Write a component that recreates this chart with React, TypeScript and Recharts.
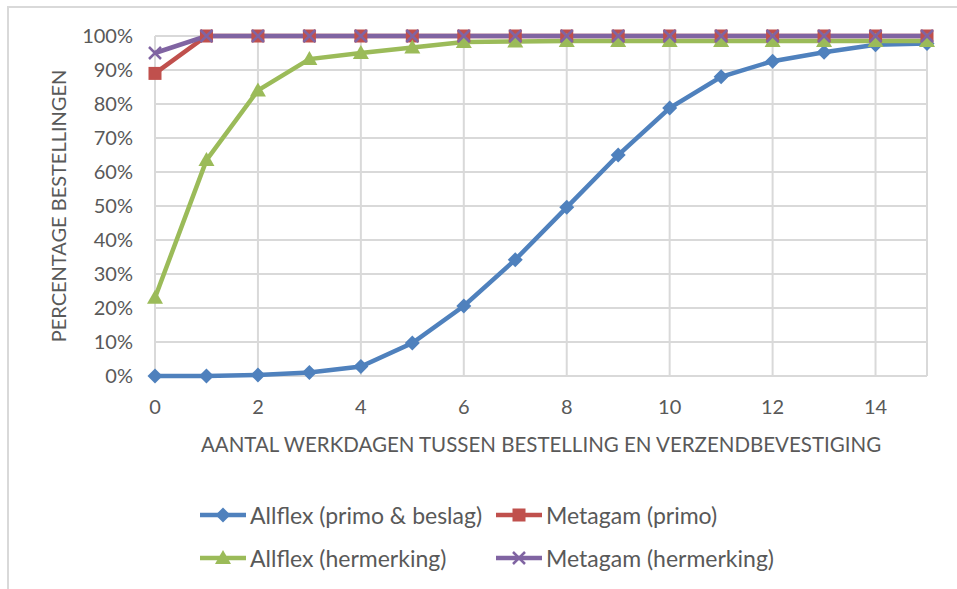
import React from 'react';
import { LineChart, Line, XAxis, YAxis, CartesianGrid, Legend, Label } from 'recharts';

const DAGEN = [0, 1, 2, 3, 4, 5, 6, 7, 8, 9, 10, 11, 12, 13, 14, 15];
const ALLFLEX_PRIMO = [0, 0, 0.3, 1, 2.8, 9.7, 20.6, 34.2, 49.6, 65, 78.8, 88, 92.6, 95.2, 97.4, 97.8];
const METAGAM_PRIMO = [89, 100, 100, 100, 100, 100, 100, 100, 100, 100, 100, 100, 100, 100, 100, 100];
const ALLFLEX_HERMERKING = [23, 63.5, 84, 93.2, 95, 96.6, 98.2, 98.4, 98.5, 98.5, 98.5, 98.5, 98.5, 98.5, 98.5, 98.5];
const METAGAM_HERMERKING = [95, 100, 100, 100, 100, 100, 100, 100, 100, 100, 100, 100, 100, 100, 100, 100];
const X_TICKS = [0, 2, 4, 6, 8, 10, 12, 14];
const Y_TICKS = [0, 10, 20, 30, 40, 50, 60, 70, 80, 90, 100];

const FONT = 'Lato, sans-serif';
const TEXT = '#595959';
const GRID = '#d9d9d9';

type Marker = 'diamond' | 'square' | 'triangle' | 'cross';

const SERIES: { key: string; name: string; color: string; marker: Marker }[] = [
  { key: 'allflexPrimo', name: 'Allflex (primo & beslag)', color: '#4f81bd', marker: 'diamond' },
  { key: 'metagamPrimo', name: 'Metagam (primo)', color: '#c0504d', marker: 'square' },
  { key: 'allflexHer', name: 'Allflex (hermerking)', color: '#9bbb59', marker: 'triangle' },
  { key: 'metagamHer', name: 'Metagam (hermerking)', color: '#8064a2', marker: 'cross' },
];

const data = DAGEN.map((d, i) => ({
  dag: d,
  allflexPrimo: ALLFLEX_PRIMO[i],
  metagamPrimo: METAGAM_PRIMO[i],
  allflexHer: ALLFLEX_HERMERKING[i],
  metagamHer: METAGAM_HERMERKING[i],
}));

function markerShape(kind: Marker, cx: number, cy: number, color: string, key?: string) {
  switch (kind) {
    case 'diamond':
      return <path key={key} d={`M${cx},${cy - 7.5}L${cx + 7.5},${cy}L${cx},${cy + 7.5}L${cx - 7.5},${cy}Z`} fill={color} />;
    case 'square':
      return <rect key={key} x={cx - 6.5} y={cy - 6.5} width={13} height={13} fill={color} />;
    case 'triangle':
      return <path key={key} d={`M${cx},${cy - 8}L${cx + 8},${cy + 6}L${cx - 8},${cy + 6}Z`} fill={color} />;
    default:
      return (
        <path
          key={key}
          d={`M${cx - 6},${cy - 6}L${cx + 6},${cy + 6}M${cx + 6},${cy - 6}L${cx - 6},${cy + 6}`}
          stroke={color}
          strokeWidth={2.5}
          fill="none"
        />
      );
  }
}

function LegendeBox() {
  const rows = [SERIES.slice(0, 2), SERIES.slice(2, 4)];
  return (
    <div style={{ height: 113, fontFamily: FONT, fontSize: 23, color: TEXT, position: 'relative' }}>
      {rows.map((row, r) =>
        row.map((s, c) => (
          <div
            key={s.key}
            style={{
              position: 'absolute',
              left: c === 0 ? 200 : 496,
              top: r === 0 ? 26 : 69,
              display: 'flex',
              alignItems: 'center',
              height: 26,
              whiteSpace: 'nowrap',
            }}
          >
            <svg width={46} height={20} style={{ marginRight: 4 }}>
              <line x1={0} y1={10} x2={46} y2={10} stroke={s.color} strokeWidth={4.5} />
              {markerShape(s.marker, 23, 10, s.color)}
            </svg>
            <span>{s.name}</span>
          </div>
        ))
      )}
    </div>
  );
}

export default function App() {
  return (
    <div style={{ position: 'absolute', left: 0, top: 0, width: 957, height: 589, background: '#fff' }}>
      <div
        style={{
          position: 'absolute',
          left: 7,
          top: 6,
          width: 950,
          height: 583,
          borderTop: `2px solid ${GRID}`,
          borderLeft: `2px solid ${GRID}`,
          boxSizing: 'border-box',
        }}
      />
      <LineChart
        width={957}
        height={589}
        data={data}
        margin={{ top: 36, right: 30, bottom: 0, left: 0 }}
        style={{ position: 'absolute', left: 0, top: 0 }}
      >
        <CartesianGrid stroke={GRID} strokeWidth={2} />
        <XAxis
          dataKey="dag"
          type="number"
          domain={[0, 15]}
          ticks={X_TICKS}
          height={100}
          tickSize={0}
          tickMargin={24}
          axisLine={false}
          tickLine={false}
          tick={{ fill: TEXT, fontSize: 20, fontFamily: FONT }}
        >
          <Label
            value="AANTAL WERKDAGEN TUSSEN BESTELLING EN VERZENDBEVESTIGING"
            position="insideTop"
            offset={61}
            fill={TEXT}
            fontSize={20.5}
            fontFamily={FONT}
          />
        </XAxis>
        <YAxis
          type="number"
          domain={[0, 100]}
          ticks={Y_TICKS}
          width={155}
          tickSize={0}
          tickMargin={22}
          axisLine={false}
          tickLine={false}
          tickFormatter={(v) => `${v}%`}
          tick={{ fill: TEXT, fontSize: 20, fontFamily: FONT }}
        >
          <Label
            content={({ viewBox }: any) => {
              const x = viewBox.x + 58;
              const y = viewBox.y + viewBox.height / 2;
              return (
                <text
                  x={x}
                  y={y}
                  transform={`rotate(-90 ${x} ${y})`}
                  textAnchor="middle"
                  dominantBaseline="central"
                  fill={TEXT}
                  fontSize={20}
                  fontFamily={FONT}
                >
                  PERCENTAGE BESTELLINGEN
                </text>
              );
            }}
          />
        </YAxis>
        <Legend verticalAlign="bottom" content={() => <LegendeBox />} />
        {SERIES.map((s) => (
          <Line
            key={s.key}
            dataKey={s.key}
            name={s.name}
            stroke={s.color}
            strokeWidth={4.5}
            isAnimationActive={false}
            dot={(p: any) => markerShape(s.marker, p.cx, p.cy, s.color, `${s.key}-${p.index}`)}
            activeDot={false}
          />
        ))}
      </LineChart>
    </div>
  );
}
